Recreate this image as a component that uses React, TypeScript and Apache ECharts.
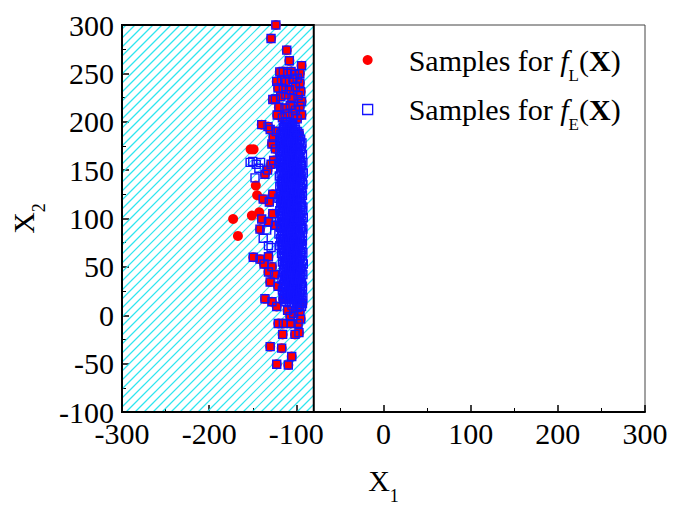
import React, { useEffect, useRef } from 'react';
import * as echarts from 'echarts';

const X_MIN = -300;
const X_MAX = 300;
const X_STEP = 100;
const Y_MIN = -100;
const Y_MAX = 300;
const Y_STEP = 50;

// infeasible (hatched) region along X1
const hatchRange = [-300, -80];

const nameL = 'Samples for fL(X)';
const nameE = 'Samples for fE(X)';

// samples found by both f_L and f_E
const samplesBoth: number[][] = [
  [-123.5, 300], [-129, 286], [-111, 274], [-108, 263], [-94, 258], [-119, 251.5], [-115, 252], [-110, 250],
  [-106, 252], [-102, 249], [-96, 250], [-122.5, 241.7], [-117, 243], [-112, 241], [-104, 244], [-99, 245],
  [-96, 240], [-121, 235], [-115, 234], [-108, 233], [-101, 236], [-95, 231], [-127, 223], [-124, 223.5],
  [-118, 226], [-112, 228], [-105, 224], [-98, 227], [-94, 221], [-120, 215], [-113, 214], [-107, 217],
  [-101, 212], [-96, 216], [-122, 207], [-116, 204], [-110, 208], [-104, 206], [-99, 203], [-94, 207],
  [-139.7, 197], [-132.5, 195], [-130, 192], [-126.4, 183.6], [-123, 190], [-128, 177], [-124, 172],
  [-136, 145.8], [-133, 150], [-129, 156], [-126, 160], [-138, 120], [-131, 117], [-127, 125],
  [-139.7, 99.5], [-132, 96.7], [-141.7, 89], [-127, 105], [-124, 93], [-149.4, 60], [-141.7, 58],
  [-132, 60.4], [-137, 53], [-128, 50], [-132, 44.7], [-125, 42], [-130, 34.4], [-121, 30], [-136, 17],
  [-128, 14], [-122.5, 9], [-115, 17], [-110, 5], [-107, -1.3], [-120.7, -8.5], [-115, -8.5], [-106, -8.5],
  [-98, -8.5], [-115.7, -19.8], [-101.5, -19.8], [-97, -18], [-130, -32.4], [-116.8, -34], [-105.3, -42.7],
  [-122.5, -50.6], [-109.2, -51.4], [-96, 4], [-93, 12], [-99, 8], [-103, 2], [-95, -4],
  [-111, 165], [-104, 182], [-98, 150], [-116, 120], [-107, 60], [-100, 30], [-113, 40], [-102, 140],
  [-109, 195], [-97, 188], [-114, 178], [-105, 100],
];

// samples only for f_L
const samplesLOnly: number[][] = [
  [-172.5, 99.5], [-167, 82], [-151, 103], [-142.5, 106.5], [-152.5, 171.5], [-149, 171.5],
  [-146.5, 134], [-145, 124],
];

// samples only for f_E (isolated squares)
const samplesEOnly: number[][] = [
  [-153, 158], [-150, 159], [-146, 156], [-141, 158], [-143, 152], [-147.4, 142], [-138, 79.6],
  [-132, 72], [-129, 70], [-134, 88],
];

// dense f_E cloud, first layer
const denseE1: number[][] = [
  [-119, 72], [-118, 79], [-120, 84], [-118.5, 91], [-119.5, 97], [-117.5, 103], [-119, 108], [-118, 115],
  [-120, 121], [-118.5, 126], [-119, 133], [-117.5, 138], [-119.5, 144], [-118, 151], [-120, 157],
  [-118.5, 162], [-119, 169], [-117.5, 175], [-119, 181], [-118, 187],
  [-115, 19], [-116, 26], [-114.5, 32], [-116.5, 37], [-115, 44], [-114, 50], [-116, 55], [-115.5, 61],
  [-114.5, 67], [-116, 73], [-115, 78], [-116.5, 85], [-114.5, 90], [-115.5, 96], [-116, 102], [-114.5, 107],
  [-115, 113], [-116.5, 119], [-115, 124], [-114, 130], [-116, 136], [-115.5, 141], [-114.5, 147], [-116, 153],
  [-115, 158], [-116.5, 164], [-114.5, 170], [-115.5, 176], [-116, 182], [-114.5, 188], [-115, 194],
  [-112, 14], [-113, 21], [-111.5, 27], [-113.5, 33], [-112, 39], [-111, 45], [-113, 51], [-112.5, 56],
  [-111.5, 62], [-113, 68], [-112, 74], [-113.5, 79], [-111.5, 85], [-112.5, 91], [-113, 96], [-111.5, 102],
  [-112, 108], [-113.5, 114], [-112, 119], [-111, 125], [-113, 131], [-112.5, 137], [-111.5, 142], [-113, 148],
  [-112, 154], [-113.5, 160], [-111.5, 165], [-112.5, 171], [-113, 177], [-111.5, 183], [-112, 189], [-113, 195],
  [-112, 200],
  [-109, 17], [-110, 23], [-108.5, 29], [-110.5, 35], [-109, 41], [-108, 47], [-110, 52], [-109.5, 58],
  [-108.5, 64], [-110, 70], [-109, 76], [-110.5, 81], [-108.5, 87], [-109.5, 93], [-110, 99], [-108.5, 104],
  [-109, 110], [-110.5, 116], [-109, 122], [-108, 127], [-110, 133], [-109.5, 139], [-108.5, 145], [-110, 150],
  [-109, 156], [-110.5, 162], [-108.5, 168], [-109.5, 173], [-110, 179], [-108.5, 185], [-109, 191], [-110, 197],
  [-106, 13], [-107, 20], [-105.5, 25], [-107.5, 31], [-106, 37], [-105, 43], [-107, 49], [-106.5, 54],
  [-105.5, 60], [-107, 66], [-106, 72], [-107.5, 77], [-105.5, 83], [-106.5, 89], [-107, 95], [-105.5, 100],
  [-106, 106], [-107.5, 112], [-106, 118], [-105, 123], [-107, 129], [-106.5, 135], [-105.5, 141], [-107, 146],
  [-106, 152], [-107.5, 158], [-105.5, 164], [-106.5, 169], [-107, 175], [-105.5, 181], [-106, 187], [-107, 193],
  [-106, 199],
  [-103, 16], [-104, 22], [-102.5, 28], [-104.5, 34], [-103, 40], [-102, 46], [-104, 51], [-103.5, 57],
  [-102.5, 63], [-104, 69], [-103, 75], [-104.5, 80], [-102.5, 86], [-103.5, 92], [-104, 98], [-102.5, 103],
  [-103, 109], [-104.5, 115], [-103, 121], [-102, 126], [-104, 132], [-103.5, 138], [-102.5, 144], [-104, 149],
  [-103, 155], [-104.5, 161], [-102.5, 167], [-103.5, 172], [-104, 178], [-102.5, 184], [-103, 190], [-104, 196],
  [-100, 12], [-101, 19], [-99.5, 24], [-101.5, 30], [-100, 36], [-99, 42], [-101, 48], [-100.5, 53],
  [-99.5, 59], [-101, 65], [-100, 71], [-101.5, 76], [-99.5, 82], [-100.5, 88], [-101, 94], [-99.5, 99],
  [-100, 105], [-101.5, 111], [-100, 117], [-99, 122], [-101, 128], [-100.5, 134], [-99.5, 140], [-101, 145],
  [-100, 151], [-101.5, 157], [-99.5, 163], [-100.5, 168], [-101, 174], [-99.5, 180], [-100, 186], [-101, 192],
  [-97, 10], [-98, 17], [-96.5, 23], [-98.5, 29], [-97, 35], [-96, 41], [-98, 46], [-97.5, 52],
  [-96.5, 58], [-98, 64], [-97, 70], [-98.5, 75], [-96.5, 81], [-97.5, 87], [-98, 93], [-96.5, 98],
  [-97, 104], [-98.5, 110], [-97, 116], [-96, 121], [-98, 127], [-97.5, 133], [-96.5, 139], [-98, 144],
  [-97, 150], [-98.5, 156], [-96.5, 162], [-97.5, 167], [-98, 173], [-96.5, 179], [-97, 185],
  [-94, 9], [-93.5, 15], [-94.5, 21], [-93, 27], [-94, 33], [-95, 39], [-93.5, 45], [-94, 50],
  [-93, 56], [-94.5, 62], [-93.5, 68], [-94, 74], [-95, 79], [-93, 85], [-94, 91], [-93.5, 97],
  [-94.5, 103], [-93, 108], [-94, 114], [-95, 120], [-93.5, 126], [-94, 131], [-93, 137], [-94.5, 143],
  [-93.5, 149], [-94, 155], [-95, 160], [-93, 166], [-94, 172], [-93.5, 178],
];

// dense f_E cloud, second layer
const denseE2: number[][] = [
  [-117, 64], [-116.5, 70], [-117.5, 76], [-116, 82], [-117, 88], [-117.5, 93], [-116.5, 99], [-117, 105],
  [-116, 110], [-117.5, 117], [-117, 123], [-116.5, 129], [-117, 135], [-116, 141], [-117.5, 147], [-117, 154],
  [-116.5, 160], [-117, 166], [-116, 172], [-117.5, 178], [-117, 184], [-116.5, 190],
  [-114, 16], [-113.5, 22], [-114.5, 29], [-114, 35], [-113, 41], [-114.5, 47], [-114, 53], [-113.5, 59],
  [-114, 64], [-114.5, 70], [-113, 76], [-114, 82], [-113.5, 88], [-114.5, 93], [-114, 99], [-113, 105],
  [-114, 111], [-114.5, 117], [-113.5, 122], [-114, 128], [-113, 134], [-114.5, 139], [-114, 145], [-113.5, 151],
  [-114, 157], [-114.5, 162], [-113, 168], [-114, 174], [-113.5, 180], [-114.5, 186], [-114, 192], [-113.5, 197],
  [-111, 18], [-110.5, 24], [-111.5, 30], [-111, 36], [-110, 42], [-111.5, 48], [-111, 54], [-110.5, 59],
  [-111, 65], [-111.5, 71], [-110, 77], [-111, 83], [-110.5, 88], [-111.5, 94], [-111, 100], [-110, 106],
  [-111, 112], [-111.5, 118], [-110.5, 123], [-111, 129], [-110, 135], [-111.5, 140], [-111, 146], [-110.5, 152],
  [-111, 158], [-111.5, 163], [-110, 169], [-111, 175], [-110.5, 181], [-111.5, 187], [-111, 193], [-110.5, 199],
  [-108, 13], [-107.5, 19], [-108.5, 26], [-108, 32], [-107, 38], [-108.5, 44], [-108, 50], [-107.5, 55],
  [-108, 61], [-108.5, 67], [-107, 73], [-108, 79], [-107.5, 84], [-108.5, 90], [-108, 96], [-107, 102],
  [-108, 108], [-108.5, 114], [-107.5, 119], [-108, 125], [-107, 131], [-108.5, 136], [-108, 142], [-107.5, 148],
  [-108, 154], [-108.5, 159], [-107, 165], [-108, 171], [-107.5, 177], [-108.5, 183], [-108, 189], [-107.5, 195],
  [-105, 10], [-104.5, 17], [-105.5, 23], [-105, 29], [-104, 35], [-105.5, 41], [-105, 47], [-104.5, 52],
  [-105, 58], [-105.5, 64], [-104, 70], [-105, 76], [-104.5, 81], [-105.5, 87], [-105, 93], [-104, 99],
  [-105, 105], [-105.5, 111], [-104.5, 116], [-105, 122], [-104, 128], [-105.5, 133], [-105, 139], [-104.5, 145],
  [-105, 151], [-105.5, 156], [-104, 162], [-105, 168], [-104.5, 174], [-105.5, 180], [-105, 186], [-104.5, 192],
  [-105, 197],
  [-102, 13], [-101.5, 20], [-102.5, 26], [-102, 32], [-101, 38], [-102.5, 44], [-102, 49], [-101.5, 55],
  [-102, 61], [-102.5, 67], [-101, 73], [-102, 78], [-101.5, 84], [-102.5, 90], [-102, 96], [-101, 101],
  [-102, 107], [-102.5, 113], [-101.5, 119], [-102, 124], [-101, 130], [-102.5, 136], [-102, 142], [-101.5, 147],
  [-102, 153], [-102.5, 159], [-101, 165], [-102, 170], [-101.5, 176], [-102.5, 182], [-102, 188], [-101.5, 194],
  [-99, 15], [-98.5, 21], [-99.5, 27], [-99, 33], [-98, 39], [-99.5, 44], [-99, 50], [-98.5, 56],
  [-99, 62], [-99.5, 68], [-98, 73], [-99, 79], [-98.5, 85], [-99.5, 91], [-99, 96], [-98, 102],
  [-99, 108], [-99.5, 114], [-98.5, 119], [-99, 125], [-98, 131], [-99.5, 137], [-99, 142], [-98.5, 148],
  [-99, 154], [-99.5, 160], [-98, 165], [-99, 171], [-98.5, 177], [-99.5, 183], [-99, 190],
  [-95.5, 13], [-96, 19], [-95, 25], [-95.5, 31], [-96.5, 37], [-95, 43], [-95.5, 48], [-96, 54],
  [-95.5, 60], [-95, 66], [-96.5, 72], [-95.5, 77], [-96, 83], [-95, 89], [-95.5, 95], [-96.5, 101],
  [-95.5, 106], [-95, 112], [-96, 118], [-95.5, 124], [-96.5, 129], [-95, 135], [-95.5, 141], [-96, 147],
  [-95.5, 152], [-95, 158], [-96.5, 164], [-95.5, 170], [-96, 176], [-95, 182],
  [-92.5, 18], [-93, 30], [-92.5, 42], [-92, 53], [-92.5, 65], [-93, 77], [-92.5, 89], [-92, 101],
  [-92.5, 112], [-93, 124], [-92.5, 135], [-92, 147], [-92.5, 158],
];

const FONT = 'Liberation Serif';
const RED = '#ff0000';
const BLUE = '#1414ff';

const legendRich = {
  g: { width: 31, fontSize: 30, fontFamily: FONT, lineHeight: 44 },
  n: { fontSize: 30, fontFamily: FONT, color: '#000', lineHeight: 44 },
  i: { fontSize: 30, fontFamily: FONT, fontStyle: 'italic', color: '#000', lineHeight: 44 },
  s: { fontSize: 17, fontFamily: FONT, color: '#000', lineHeight: 44, verticalAlign: 'bottom', height: 14 },
  b: { fontSize: 30, fontFamily: FONT, fontWeight: 'bold', color: '#000', lineHeight: 44 },
};

const axisNameRich = {
  x: { fontSize: 30, fontFamily: FONT, color: '#000', lineHeight: 44 },
  s: { fontSize: 18, fontFamily: FONT, color: '#000', lineHeight: 44, verticalAlign: 'bottom', height: 12 },
};

export default function App() {
  const ref = useRef<HTMLDivElement>(null);
  useEffect(() => {
    if (!ref.current) return;
    const chart = echarts.init(ref.current, undefined, { renderer: 'svg' });
    const axisCommon = {
      type: 'value' as const,
      splitLine: { show: false },
      axisLine: { show: true, onZero: false, lineStyle: { color: '#000', width: 2 } },
      axisTick: { show: true, inside: true, length: 7, lineStyle: { color: '#000', width: 1.5 } },
      minorTick: { show: true, splitNumber: 2, length: 4, lineStyle: { color: '#000', width: 1 } },
      axisLabel: { fontSize: 30, fontFamily: FONT, color: '#000' },
    };
    chart.setOption({
      animation: false,
      backgroundColor: '#fff',
      grid: { left: 122, right: 28, top: 25, bottom: 89, show: true, borderColor: '#444', borderWidth: 1 },
      xAxis: {
        ...axisCommon,
        min: X_MIN, max: X_MAX, interval: X_STEP,
        axisLabel: { ...axisCommon.axisLabel, margin: 6 },
        name: '{x|X}{s|1}',
        nameLocation: 'middle',
        nameGap: 46,
        nameTextStyle: { rich: axisNameRich },
      },
      yAxis: {
        ...axisCommon,
        min: Y_MIN, max: Y_MAX, interval: Y_STEP,
        axisLabel: { ...axisCommon.axisLabel, margin: 8 },
        name: '{x|X}{s|2}',
        nameLocation: 'middle',
        nameRotate: 90,
        nameGap: 64,
        nameTextStyle: { rich: axisNameRich },
      },
      legend: {
        orient: 'vertical',
        left: 357,
        top: 40,
        itemWidth: 10,
        itemHeight: 10,
        itemGap: 11,
        selectedMode: false,
        data: [
          { name: nameL, icon: 'circle', itemStyle: { color: RED } },
          { name: nameE, icon: 'rect', itemStyle: { color: 'rgba(255,255,255,0)', borderColor: BLUE, borderWidth: 1.3 } },
        ],
        formatter: (name: string) =>
          name === nameL
            ? '{g| }{n|Samples for }{i|f}{s|L}{n|(}{b|X}{n|)}'
            : '{g| }{n|Samples for }{i|f}{s|E}{n|(}{b|X}{n|)}',
        textStyle: { rich: legendRich },
      },
      series: [
        {
          type: 'custom',
          name: 'region',
          silent: true,
          z: 1,
          data: [hatchRange],
          renderItem: (params: any, api: any) => {
            const p0 = api.coord([api.value(0), Y_MAX]);
            const p1 = api.coord([api.value(1), Y_MIN]);
            const L = p0[0], T = p0[1], R = p1[0], B = p1[1];
            const children: any[] = [];
            const step = 9;
            for (let c = L + T + 4; c < R + B; c += step) {
              const xa = Math.max(L, c - B);
              const xb = Math.min(R, c - T);
              if (xb <= xa) continue;
              children.push({
                type: 'line',
                shape: { x1: xa, y1: c - xa, x2: xb, y2: c - xb },
                style: { stroke: '#2ee6f0', lineWidth: 1.2 },
              });
            }
            children.push({
              type: 'rect',
              shape: { x: L, y: T, width: R - L, height: B - T },
              style: { fill: 'none', stroke: '#000', lineWidth: 2 },
            });
            return { type: 'group', children };
          },
        },
        {
          type: 'scatter',
          name: nameL,
          z: 3,
          symbol: 'circle',
          symbolSize: 10,
          itemStyle: { color: RED, opacity: 1 },
          data: [...samplesBoth, ...samplesLOnly],
        },
        {
          type: 'scatter',
          name: nameE,
          z: 4,
          symbol: 'rect',
          symbolSize: 8,
          itemStyle: { color: 'rgba(255,255,255,0)', borderColor: BLUE, borderWidth: 1.4, opacity: 1 },
          data: [...samplesBoth, ...samplesEOnly, ...denseE1, ...denseE2],
        },
      ],
    });
    return () => chart.dispose();
  }, []);
  return <div ref={ref} style={{ position: 'fixed', left: 0, top: 0, width: 673, height: 510, background: '#fff' }} />;
}
